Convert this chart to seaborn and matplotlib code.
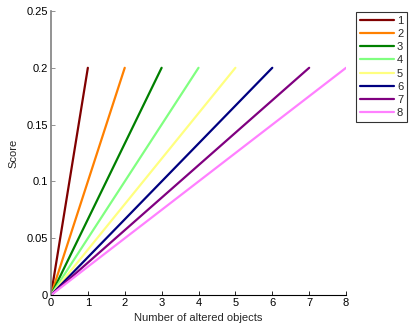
import matplotlib
matplotlib.use("Agg")
import matplotlib.pyplot as plt
import seaborn as sns
import pandas as pd

series = ["1", "2", "3", "4", "5", "6", "7", "8"]
start_x = [0, 0, 0, 0, 0, 0, 0, 0]
end_x = [1, 2, 3, 4, 5, 6, 7, 8]
start_score = [0, 0, 0, 0, 0, 0, 0, 0]
end_score = [0.2, 0.2, 0.2, 0.2, 0.2, 0.2, 0.2, 0.2]
colors = ["#800000", "#FF8000", "#008000", "#80FF80", "#FFFF80", "#000080", "#800080", "#FF80FF"]
x_ticks = [0, 1, 2, 3, 4, 5, 6, 7, 8]
y_ticks = [0, 0.05, 0.1, 0.15, 0.2, 0.25]
y_tick_labels = ["0", "0.05", "0.1", "0.15", "0.2", "0.25"]

rows = []
for s, x0, x1, y0, y1 in zip(series, start_x, end_x, start_score, end_score):
    rows.append({"series": s, "x": x0, "score": y0})
    rows.append({"series": s, "x": x1, "score": y1})
df = pd.DataFrame(rows)

sns.set_style("white")
plt.rcParams["font.family"] = ["Liberation Sans", "DejaVu Sans"]

fig = plt.figure(figsize=(4.11, 3.32), dpi=100)
ax = fig.add_axes([0.124, 0.111, 0.718, 0.856])
sns.lineplot(data=df, x="x", y="score", hue="series", palette=colors,
             hue_order=series, linewidth=1.6, ax=ax, legend=True, estimator=None, sort=False)

ax.set_xlim(0, 8)
ax.set_ylim(0, 0.25)
ax.set_xticks(x_ticks)
ax.set_xticklabels([str(t) for t in x_ticks])
ax.set_yticks(y_ticks)
ax.set_yticklabels(y_tick_labels)
ax.tick_params(direction="in", length=3, width=0.6, labelsize=8, colors="black", pad=2,
               bottom=True, left=True)
ax.tick_params(axis="y", color="#808080")
ax.set_xlabel("Number of altered objects", fontsize=8, labelpad=4)
ax.set_ylabel("Score", fontsize=8, labelpad=6)
for side in ["top", "right"]:
    ax.spines[side].set_visible(False)
ax.spines["left"].set_color("#808080")
ax.spines["left"].set_linewidth(1.2)
ax.spines["bottom"].set_color("black")
ax.spines["bottom"].set_linewidth(0.8)

leg = ax.legend(loc="upper left", bbox_to_anchor=(1.035, 0.997), fontsize=8,
                frameon=True, fancybox=False, edgecolor="black", handlelength=3.0,
                handletextpad=0.3, labelspacing=0.29, borderpad=0.35, borderaxespad=0)
leg.get_frame().set_linewidth(0.8)
ax.set_title("")

fig.savefig("out.png", dpi=100)
